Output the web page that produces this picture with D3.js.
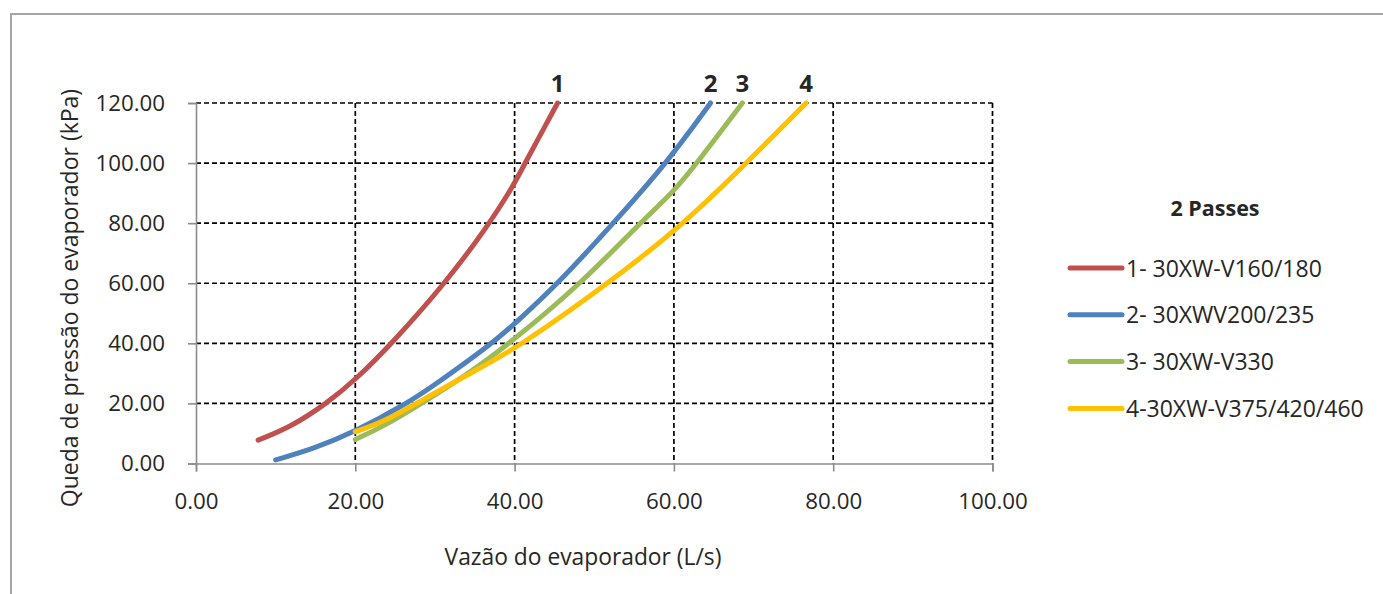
<!DOCTYPE html>
<html>
<head>
<meta charset="utf-8">
<script src="https://cdn.jsdelivr.net/npm/d3@7"></script>
<style>
  html, body { margin: 0; padding: 0; background: #fff; }
  svg { display: block; }
  text { font-family: "Open Sans", "DejaVu Sans", sans-serif; fill: #262626; }
</style>
</head>
<body>
<svg id="chart" width="1383" height="594"></svg>
<script>
// ---- data ----
const seriesNames = ["1- 30XW-V160/180", "2- 30XWV200/235", "3- 30XW-V330", "4-30XW-V375/420/460"];
const seriesTags = ["1", "2", "3", "4"];
const seriesColors = ["#C0504D", "#4F81BD", "#9BBB59", "#FFC000"];
const series1 = [[7.8,7.8],[12,12.3],[16.4,20],[20,27.8],[24.6,40],[31.3,60],[36.9,80],[40,93.2],[41.1,99],[45.4,120]];
const series2 = [[10,1.2],[14.7,4.8],[20,10.6],[26.5,20],[30,26.2],[37.2,40],[40,46.5],[45.5,60],[52.4,80],[59.1,100],[64.6,120]];
const series3 = [[20,8.0],[23.5,12.3],[28.3,20],[34,29.5],[39.4,40],[48.4,60],[55.7,80],[60,90.5],[62.9,100],[68.6,120]];
const series4 = [[20,10.6],[23.5,13.8],[27.7,20],[34,29.5],[40,37.8],[51.8,60],[61.4,80],[69.1,100],[76.6,120]];
const allSeries = [series1, series2, series3, series4];
const xTicks = [0, 20, 40, 60, 80, 100];
const yTicks = [0, 20, 40, 60, 80, 100, 120];
const xTitle = "Vazão do evaporador (L/s)";
const yTitle = "Queda de pressão do evaporador (kPa)";
const legendTitle = "2 Passes";

// ---- layout ----
const svg = d3.select("#chart");
const L = 196, R = 992.5, T = 103, B = 463.5;
const x = d3.scaleLinear().domain([0, 100]).range([L, R]);
const y = d3.scaleLinear().domain([0, 120]).range([B, T]);

// outer frame
svg.append("rect").attr("x", 11).attr("y", 14).attr("width", 1390).attr("height", 620)
  .attr("fill", "none").attr("stroke", "#a6a6a6").attr("stroke-width", 2);

// grid
const grid = svg.append("g");
grid.selectAll("line.h").data(yTicks.filter(d => d > 0)).join("line")
  .attr("x1", L).attr("x2", R).attr("y1", d => y(d)).attr("y2", d => y(d))
  .attr("stroke", "#000").attr("stroke-width", 1.7).attr("stroke-dasharray", "5,3");
grid.selectAll("line.v").data(xTicks.filter(d => d > 0)).join("line")
  .attr("y1", T).attr("y2", B).attr("x1", d => x(d)).attr("x2", d => x(d))
  .attr("stroke", "#000").attr("stroke-width", 1.7).attr("stroke-dasharray", "5,3");

// axes
const fmt = d3.format(".2f");
const xAxis = svg.append("g").attr("transform", `translate(0,${B})`)
  .call(d3.axisBottom(x).tickValues(xTicks).tickSize(8).tickPadding(22).tickFormat(fmt));
const yAxis = svg.append("g").attr("transform", `translate(${L},0)`)
  .call(d3.axisLeft(y).tickValues(yTicks).tickSize(8).tickPadding(23).tickFormat(fmt));
[xAxis, yAxis].forEach(a => {
  a.select(".domain").attr("stroke", "#8c8c8c").attr("stroke-width", 1.6);
  a.selectAll(".tick line").attr("stroke", "#8c8c8c").attr("stroke-width", 1.6);
  a.selectAll(".tick text").attr("font-size", 22.3).attr("fill", "#262626")
    .attr("font-family", '"Open Sans", sans-serif');
});

// titles
svg.append("text").attr("x", 583).attr("y", 565).attr("text-anchor", "middle")
  .attr("font-size", 22.8).text(xTitle);
svg.append("text").attr("transform", "translate(78,298) rotate(-90)").attr("text-anchor", "middle")
  .attr("font-size", 23).text(yTitle);

// lines
const line = d3.line().x(d => x(d[0])).y(d => y(d[1])).curve(d3.curveBasis);
svg.append("g").selectAll("path").data(allSeries).join("path")
  .attr("d", line).attr("fill", "none")
  .attr("stroke", (d, i) => seriesColors[i]).attr("stroke-width", 5).attr("stroke-linecap", "round");

// curve tags
svg.append("g").selectAll("text").data(allSeries).join("text")
  .attr("x", d => x(d[d.length - 1][0])).attr("y", 92).attr("text-anchor", "middle")
  .attr("font-size", 24).attr("font-weight", "bold").attr("fill", "#000")
  .text((d, i) => seriesTags[i]);

// legend
svg.append("text").attr("x", 1215).attr("y", 216).attr("text-anchor", "middle")
  .attr("font-size", 21.5).attr("font-weight", "bold").text(legendTitle);
const lg = svg.append("g").selectAll("g").data(seriesNames).join("g")
  .attr("transform", (d, i) => `translate(0,${268 + i * 46.8})`);
lg.append("line").attr("x1", 1070).attr("x2", 1122).attr("y1", 0).attr("y2", 0)
  .attr("stroke", (d, i) => seriesColors[i]).attr("stroke-width", 5).attr("stroke-linecap", "round");
lg.append("text").attr("x", 1126).attr("y", 8.5).attr("font-size", 23).text(d => d);
</script>
</body>
</html>
